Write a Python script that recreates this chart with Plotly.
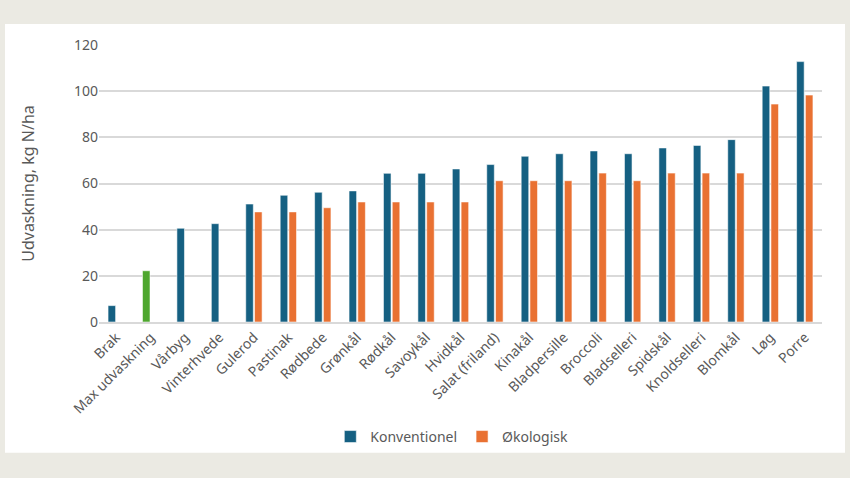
import plotly.graph_objects as go

categories = ["Brak", "Max udvaskning", "Vårbyg", "Vinterhvede", "Gulerod", "Pastinak",
              "Rødbede", "Grønkål", "Rødkål", "Savoykål", "Hvidkål", "Salat (friland)",
              "Kinakål", "Bladpersille", "Broccoli", "Bladselleri", "Spidskål",
              "Knoldselleri", "Blomkål", "Løg", "Porre"]
konventionel = [7.1, 22.2, 40.6, 42.6, 51.1, 54.9, 56.2, 56.8, 64.4, 64.4, 66.3, 68.2,
                71.8, 72.9, 74.1, 72.9, 75.4, 76.5, 79.0, 102.2, 112.8]
okologisk = [None, None, None, None, 47.7, 47.7, 49.5, 52.0, 52.0, 52.0, 52.0, 61.2,
             61.2, 61.2, 64.5, 61.2, 64.5, 64.5, 64.5, 94.4, 98.3]
y_ticks = [0, 20, 40, 60, 80, 100, 120]

BLUE = "#156082"
ORANGE = "#E97132"
GREEN = "#4EA72E"
konv_colors = [GREEN if c == "Max udvaskning" else BLUE for c in categories]

FONT = "Noto Sans"
GRAY = "#595959"

fig = go.Figure()
fig.add_trace(go.Bar(
    x=categories, y=konventionel, name="Konventionel",
    marker=dict(color=konv_colors, line=dict(color="rgba(255,255,255,0.55)", width=1)),
))
fig.add_trace(go.Bar(
    x=categories, y=okologisk, name="Økologisk",
    marker=dict(color=ORANGE, line=dict(color="rgba(255,255,255,0.55)", width=1)),
))

fig.add_shape(type="rect", xref="paper", yref="paper",
              x0=-0.130, x1=1.0318, y0=-0.4718, y1=1.0758,
              fillcolor="white", line=dict(width=0), layer="below")

fig.update_layout(
    width=850, height=478,
    paper_bgcolor="#EBEAE3",
    plot_bgcolor="rgba(0,0,0,0)",
    margin=dict(l=99, r=28, t=45, b=156),
    barmode="group",
    bargap=0.49,
    bargroupgap=0.14,
    font=dict(family=FONT, color=GRAY, size=14),
    showlegend=True,
    legend=dict(orientation="h", x=0.488, xanchor="center", y=-0.415, yanchor="middle",
                font=dict(size=14, color=GRAY), bgcolor="rgba(0,0,0,0)",
                itemwidth=30, traceorder="normal"),
    xaxis=dict(tickangle=-45, tickfont=dict(size=14, color=GRAY), showgrid=False,
               showline=True, linecolor="#D9D9D9", linewidth=1.5, ticks=""),
    yaxis=dict(range=[0, 120], tickvals=y_ticks, showgrid=True, gridcolor="#D9D9D9",
               gridwidth=1.5, zeroline=False, showline=False, ticks="",
               tickfont=dict(size=14, color=GRAY),
               title=dict(text="Udvaskning, kg N/ha", font=dict(size=16, color=GRAY),
                          standoff=35)),
)

fig.write_html("out.html",
               config={"displayModeBar": False},
               post_script="document.body.style.margin='0';document.body.style.overflow='hidden';")
